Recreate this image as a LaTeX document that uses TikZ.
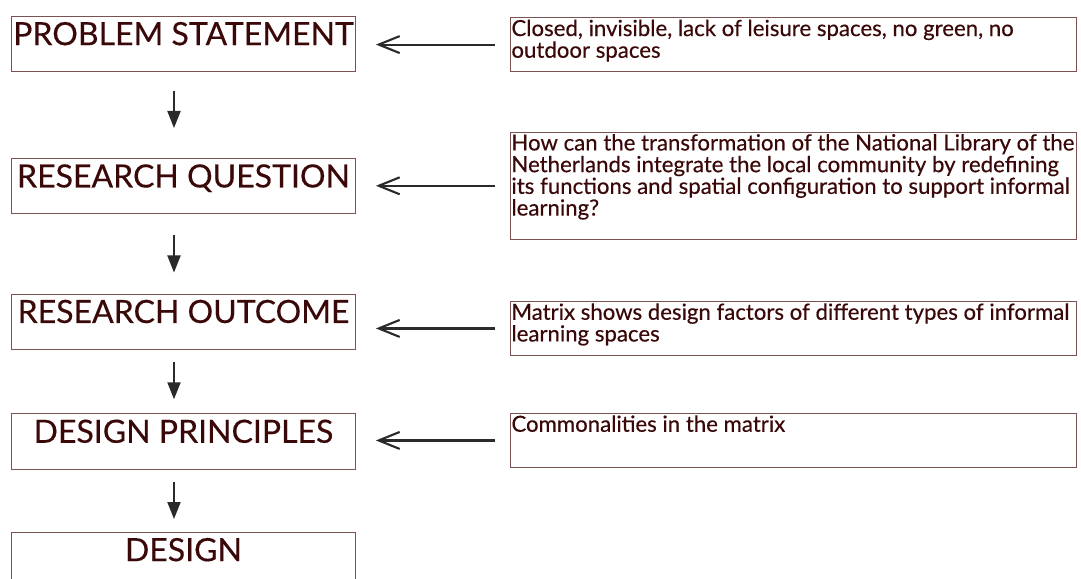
\documentclass[tikz,border=0pt]{standalone}
\usepackage{fontspec}
\setmainfont{Lato}[FakeBold=0.35]
\usetikzlibrary{arrows.meta,calc}
\definecolor{txt}{HTML}{3A0808}
\definecolor{bord}{HTML}{7A5252}
\definecolor{arr}{HTML}{2A2A2A}
\newcommand{\titletext}[1]{\begin{minipage}[t][55.3bp][t]{344bp}\centering\fontsize{32bp}{34bp}\selectfont\rule{0pt}{29bp}#1\end{minipage}}
\newcommand{\notetext}[2]{\begin{minipage}[t][#1][t]{566bp}\raggedright\leftskip=1bp\lineskiplimit=-20bp\fontsize{22.2bp}{21.7bp}\selectfont\rule{0pt}{18.3bp}#2\end{minipage}}
\begin{document}
\begin{tikzpicture}[x=1bp,y=-1bp,
  stage/.style={draw=bord, line width=0.9bp, inner sep=0pt, anchor=north west, text=txt},
  note/.style={draw=bord, line width=0.9bp, inner sep=0pt, anchor=north west, text=txt},
  varrow/.style={draw=arr, line width=2bp, -{Triangle[length=17bp,width=13bp]}},
  harrow/.style={draw=arr, line width=2.1bp, -{Straight Barb[length=21bp,width=17bp,line width=2.1bp]}}]
\useasboundingbox (0,0) rectangle (1081,579);
\fill[white] (0,0) rectangle (1081,579);
% stages
\node[stage] (ps) at (11,15.7) {\titletext{PROBLEM STATEMENT}};
\node[stage] (rq) at (11,158) {\titletext{RESEARCH QUESTION}};
\node[stage] (ro) at (11,293.5) {\titletext{RESEARCH OUTCOME}};
\node[stage] (dp) at (11,413.3) {\titletext{DESIGN PRINCIPLES}};
\node[stage] (de) at (11,531.7) {\titletext{DESIGN}};
% notes
\node[note] (n1) at (510,17.3) {\notetext{53.7bp}{Closed, invisible, lack of leisure spaces, no green, no\\outdoor spaces}};
\node[note] (n2) at (510,131.7) {\notetext{107.3bp}{How can the transformation of the National Library of the\\Netherlands integrate the local community by redefining\\its functions and spatial configuration to support informal\\learning?}};
\node[note] (n3) at (510,301) {\notetext{54bp}{Matrix shows design factors of different types of informal\\learning spaces}};
\node[note] (n4) at (510,413) {\notetext{54bp}{Commonalities in the matrix}};
% axis for vertical arrows
\coordinate (ax) at (174,0);
\draw[varrow, shorten <=19bp, shorten >=30bp] (ps.south -| ax) -- (rq.north -| ax);
\draw[varrow, shorten <=21bp, shorten >=21bp] (rq.south -| ax) -- (ro.north -| ax);
\draw[varrow, shorten <=12.5bp, shorten >=14bp] (ro.south -| ax) -- (dp.north -| ax);
\draw[varrow, shorten <=12.5bp, shorten >=12.7bp] (dp.south -| ax) -- (de.north -| ax);
% horizontal arrows
\draw[harrow, shorten <=15bp, shorten >=20bp] (n1.west) -- (n1.west -| ps.east);
\draw[harrow, shorten <=15bp, shorten >=20bp] (n2.west) -- (n2.west -| rq.east);
\draw[harrow, shorten <=15bp, shorten >=20bp] (n3.west) -- (n3.west -| ro.east);
\draw[harrow, shorten <=15bp, shorten >=20bp] (n4.west) -- (n4.west -| dp.east);
\end{tikzpicture}
\end{document}
